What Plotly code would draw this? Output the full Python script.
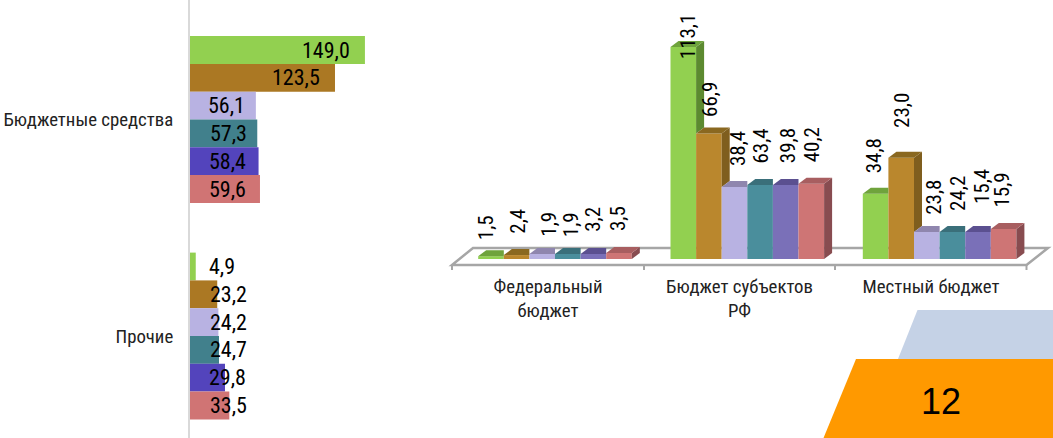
import plotly.graph_objects as go

W, H = 1053, 438
FONT = "Roboto Condensed, Roboto"

# ---------- data ----------
left_categories = ["Бюджетные средства", "Прочие"]
left_values = [
    [149.0, 4.9],
    [123.5, 23.2],
    [56.1, 24.2],
    [57.3, 24.7],
    [58.4, 29.8],
    [59.6, 33.5],
]
left_labels = [
    ["149,0", "4,9"],
    ["123,5", "23,2"],
    ["56,1", "24,2"],
    ["57,3", "24,7"],
    ["58,4", "29,8"],
    ["59,6", "33,5"],
]
right_categories = ["Федеральный<br>бюджет", "Бюджет субъектов<br>РФ", "Местный бюджет"]
right_heights = [
    [1.5, 113.1, 34.8],
    [2.1, 66.9, 54.0],
    [2.7, 38.4, 14.4],
    [2.7, 39.5, 14.4],
    [2.7, 39.5, 14.4],
    [3.2, 40.2, 16.0],
]
right_labels = [
    ["1,5", "113,1", "34,8"],
    ["2,4", "66,9", "23,0"],
    ["1,9", "38,4", "23,8"],
    ["1,9", "63,4", "24,2"],
    ["3,2", "39,8", "15,4"],
    ["3,5", "40,2", "15,9"],
]

# ---------- styles ----------
left_colors = ["#92D050", "#AB7823", "#B8B2E2", "#41808C", "#5344BC", "#D07474"]
front_colors = ["#92D050", "#BA872D", "#B8B2E2", "#4A8E9C", "#7A70B8", "#CE7575"]
top_colors = ["#6FA33C", "#8A6820", "#8F86AE", "#3A6F7A", "#5B5090", "#A85E60"]
side_colors = ["#5C8A30", "#7F5E1E", "#8F86AE", "#3A6F7A", "#5B5090", "#884C50"]

left_label_dx = [
    [-39, 26],
    [-39, 11],
    [-29, 10],
    [-29, 9],
    [-31, 3],
    [-32, -1],
]
right_label_dx = [
    [-5, 5, -2],
    [1, 1, 1],
    [7, 3, 6.5],
    [4, 1, 5],
    [0, 3, 4],
    [-1, 1, -2],
]
right_label_dy = [
    [28, 11, 38],
    [34, 34.5, 47],
    [29.5, 38.5, 34.5],
    [29.5, 38.5, 38.5],
    [34.5, 39.5, 45],
    [34, 38.6, 39],
]

# ---------- scales (px <-> data) ----------
L_X0, L_X1, L_PX_PER_UNIT = 190.0, 420.0, 1.174
L_Y_C0, L_Y_PERIOD = 119.5, 216.5
L_BAR = 27.8 / L_Y_PERIOD

R_X0, R_X1 = 430.0, 1053.0
R_C0, R_PERIOD = 555.0, 192.3
R_BOTTOM_PX, R_BASE_PX, R_PX_PER_UNIT = 270.0, 259.0, 1.875
R_BAR = 25.6 / R_PERIOD
DEPTH_X = 8.0 / R_PERIOD
DEPTH_Y = 6.0 / R_PX_PER_UNIT


def rx(px):
    return (px - R_C0) / R_PERIOD


def ry(px):
    return (R_BASE_PX - px) / R_PX_PER_UNIT


fig = go.Figure()

# left chart
for k, vals in enumerate(left_values):
    fig.add_bar(
        x=vals, y=[0, 1], orientation="h", xaxis="x", yaxis="y",
        width=L_BAR, offset=(k - 3) * L_BAR,
        marker=dict(color=left_colors[k], line=dict(width=0)),
        showlegend=False, hoverinfo="skip",
    )

# right chart: front faces
for k, vals in enumerate(right_heights):
    fig.add_bar(
        x=[0, 1, 2], y=vals, xaxis="x2", yaxis="y2",
        width=R_BAR, offset=(k - 3) * R_BAR,
        marker=dict(color=front_colors[k], line=dict(width=0)),
        showlegend=False, hoverinfo="skip",
    )

# right chart: depth faces derived from the same values
for c in range(3):
    for k in range(6):
        h = right_heights[k][c]
        nxt = right_heights[k + 1][c] if k < 5 else 0.0
        xl = c + (k - 3) * R_BAR
        xr = xl + R_BAR
        if nxt < h:
            low = nxt if k < 5 else 0.0
            fig.add_scatter(
                x=[xr, xr + DEPTH_X, xr + DEPTH_X, xr, xr],
                y=[h, h + DEPTH_Y, low + DEPTH_Y, low, h],
                mode="lines", line=dict(width=0), fill="toself",
                fillcolor=side_colors[k], xaxis="x2", yaxis="y2",
                showlegend=False, hoverinfo="skip",
            )
            top_x = [xl, xl + DEPTH_X, xr + DEPTH_X, xr, xl]
        else:
            top_x = [xl, xl + DEPTH_X, xr, xr, xl]
        fig.add_scatter(
            x=top_x, y=[h, h + DEPTH_Y, h + DEPTH_Y, h, h],
            mode="lines", line=dict(width=0), fill="toself",
            fillcolor=top_colors[k], xaxis="x2", yaxis="y2",
            showlegend=False, hoverinfo="skip",
        )

annotations = []
for k in range(6):
    for c in range(2):
        annotations.append(dict(
            x=left_values[k][c], y=c + (k - 2.5) * L_BAR, xref="x", yref="y",
            text=left_labels[k][c], showarrow=False, xanchor="center", yanchor="middle",
            xshift=left_label_dx[k][c], font=dict(family=FONT, size=22, color="#000"),
        ))
    for c in range(3):
        annotations.append(dict(
            x=c + (k - 2.5) * R_BAR, y=right_heights[k][c], xref="x2", yref="y2",
            text=right_labels[k][c], showarrow=False, textangle=-90,
            xanchor="center", yanchor="middle",
            xshift=right_label_dx[k][c], yshift=right_label_dy[k][c],
            font=dict(family=FONT, size=21, color="#000"),
        ))
annotations.append(dict(
    x=941 / W, y=1 - 401 / H, xref="paper", yref="paper", text="12", showarrow=False,
    xanchor="center", yanchor="middle",
    font=dict(family="Liberation Sans", size=36, color="#000"),
))

FLOOR = "#A6A6A6"
floor_path = "M{} {} L{} {} L{} {} L{} {} Z".format(
    rx(452), ry(265), rx(1026.5), ry(265), rx(1048), ry(248), rx(473), ry(248)
)
shapes = [
    dict(type="path", path=floor_path, xref="x2", yref="y2", layer="below",
         line=dict(color=FLOOR, width=2.5), fillcolor="#FFFFFF"),
]
for px in [452, 644, 835, 1026.5]:
    shapes.append(dict(type="line", x0=rx(px), x1=rx(px), y0=ry(265), y1=ry(270),
                       xref="x2", yref="y2", layer="below",
                       line=dict(color=FLOOR, width=2)))
shapes.append(dict(type="path", xref="paper", yref="paper", layer="below", line=dict(width=0),
                   fillcolor="#C5D2E6",
                   path="M{} {} L1 {} L1 {} L{} {} Z".format(
                       917.5 / W, 1 - 310 / H, 1 - 310 / H, 1 - 359 / H, 898 / W, 1 - 359 / H)))
shapes.append(dict(type="path", xref="paper", yref="paper", layer="below", line=dict(width=0),
                   fillcolor="#FF9900",
                   path="M{} {} L1 {} L1 0 L{} 0 Z".format(
                       856 / W, 1 - 359 / H, 1 - 359 / H, 823.5 / W)))

fig.update_layout(
    width=W, height=H, margin=dict(l=0, r=0, t=0, b=0, autoexpand=False),
    autosize=False,
    paper_bgcolor="#FFFFFF", plot_bgcolor="rgba(0,0,0,0)", barmode="overlay",
    showlegend=False, annotations=annotations, shapes=shapes,
    xaxis=dict(domain=[L_X0 / W, L_X1 / W], range=[0, (L_X1 - L_X0) / L_PX_PER_UNIT],
               visible=False, fixedrange=True),
    yaxis=dict(domain=[0, 1], anchor="x",
               range=[(H - L_Y_C0) / L_Y_PERIOD, -L_Y_C0 / L_Y_PERIOD],
               tickvals=[0, 1], ticktext=left_categories,
               tickfont=dict(family=FONT, size=18.8, color="#222"),
               showline=True, linecolor="#D9D9D9", linewidth=2,
               ticks="", showgrid=False, zeroline=False, ticklabelstandoff=11,
               fixedrange=True),
    xaxis2=dict(domain=[R_X0 / W, R_X1 / W], range=[rx(R_X0), rx(R_X1)], anchor="y2",
                tickvals=[rx(548), rx(739.5), rx(931)], ticktext=right_categories,
                tickfont=dict(family=FONT, size=18.8, color="#222"),
                ticks="", showline=False, showgrid=False, zeroline=False,
                ticklabelstandoff=3, tickangle=0, fixedrange=True),
    yaxis2=dict(domain=[1 - R_BOTTOM_PX / H, 1], anchor="x2",
                range=[ry(R_BOTTOM_PX), ry(0)], visible=False, fixedrange=True),
)

fig.write_html(
    "out.html",
    config={"displayModeBar": False},
    post_script=(
        "document.body.style.margin='0';"
        "var s=document.createElement('style');"
        "s.textContent='text{font-stretch:75%}';"
        "document.head.appendChild(s);"
    ),
)
